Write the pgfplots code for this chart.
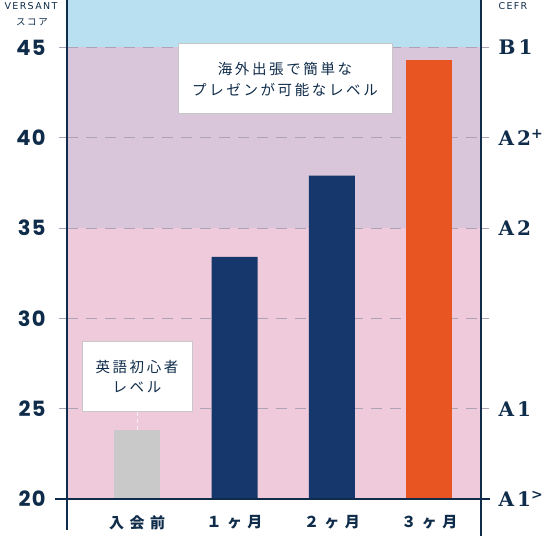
\documentclass[border=0pt]{standalone}
\usepackage{pgfplots}
\pgfplotsset{compat=1.18}
\usepackage{fontspec}
\setmainfont{DejaVu Sans}
\newfontfamily\numfont{Poppins}[LetterSpace=6]
\newfontfamily\cefrfont{DejaVu Serif}[LetterSpace=16]
\newfontfamily\smallfont{DejaVu Sans}[LetterSpace=14]
\newfontfamily\jp{Noto Sans CJK JP}[LetterSpace=18]
\newfontfamily\jpx{Noto Sans CJK JP}[LetterSpace=36]
\definecolor{navy}{HTML}{0F2C4A}
\definecolor{barnavy}{HTML}{15376B}
\definecolor{barorange}{HTML}{E85422}
\definecolor{bargray}{HTML}{C9C9C9}
\definecolor{bgblue}{HTML}{B8E0F1}
\definecolor{bgpurple}{HTML}{D9C6DA}
\definecolor{bgpink}{HTML}{EECADB}
\definecolor{gridc}{HTML}{ADA3B5}
\definecolor{boxgray}{HTML}{C8C8C8}
\begin{document}
\begin{tikzpicture}
\begin{axis}[
  set layers,
  at={(67pt,37pt)}, anchor=south west,
  scale only axis, width=414pt, height=499pt,
  xmin=-0.72, xmax=3.53, ymin=20, ymax=47.62,
  axis line style={draw=none},
  clip mode=individual,
  ytick={20,25,30,35,40,45},
  yticklabels={20,25,30,35,40,45},
  yticklabel style={font=\numfont\bfseries\fontsize{21}{21}\selectfont, text=navy, xshift=-10pt},
  ymajorgrids,
  grid style={gridc, line width=0.8pt, dash pattern=on 11pt off 8pt},
  tick align=outside, major tick length=8pt,
  ytick style={gridc, line width=0.8pt},
  xtick={0,1,2,3},
  xticklabels={入会前, １ヶ月, ２ヶ月, ３ヶ月},
  xticklabel style={font=\jpx\bfseries\fontsize{15}{15}\selectfont, text=navy, yshift=-5pt},
  xtick style={draw=none},
]
\addplot[fill=bgpink, draw=none, on layer=axis background] coordinates {(-0.72,20) (3.53,20) (3.53,35) (-0.72,35)} -- cycle;
\addplot[fill=bgpurple, draw=none, on layer=axis background] coordinates {(-0.72,35) (3.53,35) (3.53,45) (-0.72,45)} -- cycle;
\addplot[fill=bgblue, draw=none, on layer=axis background] coordinates {(-0.72,45) (3.53,45) (3.53,47.62) (-0.72,47.62)} -- cycle;

\addplot[ybar, bar width=46pt, bar shift=0pt, fill=bargray, draw=none] coordinates {(0,23.8)};
\addplot[ybar, bar width=46pt, bar shift=0pt, fill=barnavy, draw=none] coordinates {(1,33.4) (2,37.9)};
\addplot[ybar, bar width=46pt, bar shift=0pt, fill=barorange, draw=none] coordinates {(3,44.3)};

\node[anchor=west, text=navy, font=\cefrfont\bfseries\fontsize{20}{20}\selectfont, xshift=14pt] at (axis cs:3.53,45) {B1};
\node[anchor=west, text=navy, font=\cefrfont\bfseries\fontsize{20}{20}\selectfont, xshift=14pt] at (axis cs:3.53,40) {A2\raisebox{7pt}{\fontsize{14}{14}\selectfont +}};
\node[anchor=west, text=navy, font=\cefrfont\bfseries\fontsize{20}{20}\selectfont, xshift=14pt] at (axis cs:3.53,35) {A2};
\node[anchor=west, text=navy, font=\cefrfont\bfseries\fontsize{20}{20}\selectfont, xshift=14pt] at (axis cs:3.53,25) {A1};
\node[anchor=west, text=navy, font=\cefrfont\bfseries\fontsize{20}{20}\selectfont, xshift=14pt] at (axis cs:3.53,20) {A1\raisebox{7pt}{\fontsize{14}{14}\selectfont >}};
\end{axis}
% axis lines
\draw[navy, line width=2pt] (67pt,6pt) -- (67pt,536pt);
\draw[navy, line width=2pt] (481pt,0pt) -- (481pt,536pt);
\draw[navy, line width=2pt] (55pt,37pt) -- (490pt,37pt);
% connector
\draw[white!70!bgpink, line width=0.8pt, dash pattern=on 4pt off 3pt] (137pt,124pt) -- (137pt,106pt);
% boxes
\node[draw=boxgray, line width=1pt, fill=white, minimum width=214pt, minimum height=70pt, inner sep=0pt, align=center, text=navy, font=\jp\fontsize{14.5}{21}\selectfont] at (285pt,457pt) {海外出張で簡単な\\プレゼンが可能なレベル};
\node[draw=boxgray, line width=1pt, fill=white, minimum width=110pt, minimum height=70pt, inner sep=0pt, align=center, text=navy, font=\jp\fontsize{14.5}{20}\selectfont] at (137pt,159pt) {英語初心者\\レベル};
% titles
\node[text=navy, inner sep=0pt, font=\smallfont\fontsize{9.5}{10}\selectfont] at (31pt,530pt) {VERSANT};
\node[text=navy, inner sep=0pt, font=\jp\fontsize{9.5}{10}\selectfont] at (32pt,514pt) {スコア};
\node[text=navy, inner sep=0pt, font=\smallfont\fontsize{9.5}{10}\selectfont] at (513pt,530pt) {CEFR};
\pgfresetboundingbox
\path[use as bounding box] (0,0) rectangle (555pt,536pt);
\end{tikzpicture}
\end{document}
